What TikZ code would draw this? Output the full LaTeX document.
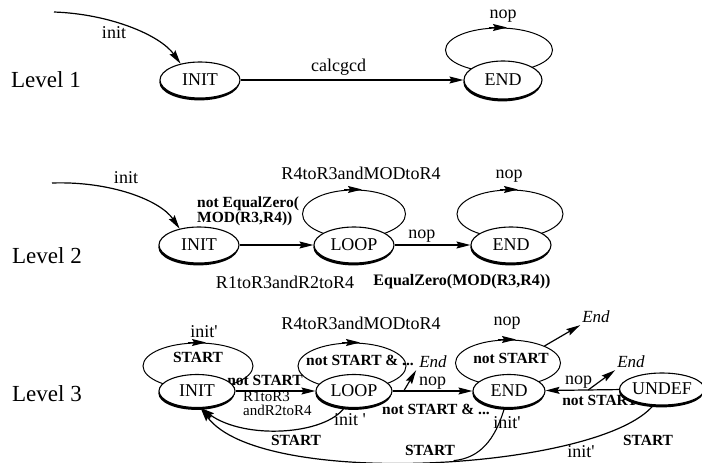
\documentclass[tikz,border=0pt]{standalone}
\usepackage{fontspec}
\setmainfont{Liberation Serif}
\usetikzlibrary{shapes.geometric,arrows.meta,shadows}
\newcommand\setfs[2]{\fontsize{#1}{#2}\selectfont}
\newcommand\pr{\textquotesingle}

\begin{document}
\begin{tikzpicture}[x=1pt,y=-1pt,
  state/.style={ellipse,draw,line width=1.1pt,fill=white,inner sep=0pt,
    minimum width=80pt,minimum height=36pt,font=\setfs{18}{20},
    drop shadow={shadow xshift=-0.6pt,shadow yshift=-2.4pt,opacity=1,fill=black}},
  loopring/.style={ellipse,draw,line width=1pt,inner sep=0pt},
  lvl/.style={font=\setfs{23}{25},inner sep=0pt},
  lbl/.style={font=\setfs{18}{20},inner sep=1pt},
  blbl/.style={font=\bfseries\setfs{15.5}{15},inner sep=1pt,align=left},
  slbl/.style={font=\setfs{15}{14},inner sep=1pt,align=left},
  endlbl/.style={font=\itshape\setfs{17}{18},inner sep=1pt},
  arr/.style={line width=1.2pt,-{Stealth[length=14pt,width=7pt,inset=2pt]}},
  plain/.style={line width=1.1pt},
]
\useasboundingbox (0,0) rectangle (702,463);

% ---------------- Level 1 ----------------
\node[lvl] (lv1) at (46,80) {Level 1};
\node[loopring,minimum width=107pt,minimum height=44pt] (end1loop) at (499,50) {};
\node[state] (init1) at (200,80) {INIT};
\node[state,minimum width=78pt,minimum height=38pt] (end1) at (503,80) {END};
\coordinate (src1) at (54,12);
\draw[arr] (src1) .. controls (110,14) and (160,35) .. (init1.140);
\node[lbl] (init1lbl) at (114,33) {init};
\draw[arr] (init1) -- node[lbl,pos=0.44,above=3pt] (calclbl) {calcgcd} (end1);
\draw[arr] ([xshift=-10pt]end1loop.north) -- ([xshift=8pt]end1loop.north);
\node[lbl] (nop1) at (503,16) {nop};

% ---------------- Level 2 ----------------
\node[lvl] (lv2) at (47,256) {Level 2};
\node[loopring,minimum width=103pt,minimum height=48pt] (loop2loop) at (354,214) {};
\node[loopring,minimum width=106pt,minimum height=48pt] (end2loop) at (510,214) {};
\node[state] (init2) at (199,245) {INIT};
\node[state] (loop2) at (354,245) {LOOP};
\node[state] (end2) at (511,245) {END};
\coordinate (src2) at (52,183);
\draw[arr] (src2) .. controls (110,181) and (160,200) .. (init2.140);
\node[lbl] (init2lbl) at (126,178) {init};
\draw[arr] (init2) -- (loop2);
\draw[arr] (loop2) -- node[lbl,pos=0.36,anchor=base,yshift=7pt] (nop2a) {nop} (end2);
\draw[arr] ([xshift=-10pt]loop2loop.north) -- ([xshift=8pt]loop2loop.north);
\draw[arr] ([xshift=-10pt]end2loop.north) -- ([xshift=8pt]end2loop.north);
\node[lbl] (r4lbl2) at (361,173) {R4toR3andMODtoR4};
\node[lbl] (nop2b) at (509,176) {nop};
\node[blbl,anchor=west] (nez) at (196,211) {not EqualZero(\\MOD(R3,R4))};
\node[lbl] (r1lbl2) at (285,282) {R1toR3andR2toR4};
\node[blbl,font=\bfseries\setfs{16}{16}] (ez) at (462,282) {EqualZero(MOD(R3,R4))};

% ---------------- Level 3 ----------------
\node[lvl] (lv3) at (47,394) {Level 3};
\node[loopring,minimum width=110pt,minimum height=46pt] (startloop) at (198,366) {};
\node[loopring,minimum width=108pt,minimum height=46pt] (loop3loop) at (352,366) {};
\node[loopring,minimum width=105pt,minimum height=46pt] (end3loop) at (508,363) {};
% labels partly hidden behind the state borders
\node[blbl] (ns1) at (265,380) {not START};
\node[blbl] (ns4) at (600,400) {not START};
\node[state,minimum width=76pt,minimum height=33pt] (init3) at (197,391) {INIT};
\node[state,minimum width=76pt,minimum height=33pt] (loop3) at (354,391) {LOOP};
\node[state,minimum width=72pt,minimum height=33pt] (end3) at (509,391) {END};
\node[state,minimum width=76pt,minimum height=32pt] (undef3) at (662,389) {UNDEF};

% self-loops
\draw[arr] ([xshift=-10pt]startloop.north) -- ([xshift=8pt]startloop.north);
\draw[arr] ([xshift=-10pt]loop3loop.north) -- ([xshift=8pt]loop3loop.north);
\draw[arr] ([xshift=-10pt]end3loop.north) -- ([xshift=8pt]end3loop.north);
\node[lbl] (initp1) at (204,332) {init\pr};
\node[blbl] (startin) at (198,357) {START};
\node[lbl] (r4lbl3) at (361,323) {R4toR3andMODtoR4};
\node[blbl,anchor=west] (nsand) at (305,360) {not START \& ...};
\node[lbl] (nop3b) at (507,323) {nop};
\node[blbl] (ns3) at (511,358) {not START};

% forward transitions
\draw[arr] (init3) -- (loop3);
\node[slbl,anchor=north west] (r1lbl3) at (242,390) {R1toR3\\andR2toR4};
\draw[arr] (loop3) -- coordinate[pos=0.14] (l3e)
  node[lbl,pos=0.5,anchor=base,yshift=6pt] (nop3a) {nop} (end3);
\node[blbl] (nsand2) at (436,409) {not START \& ...};
\draw[arr] (undef3) -- coordinate[pos=0.42] (ue)
  node[lbl,pos=0.55,anchor=base,yshift=6pt] (nop3c) {nop} (end3);

% exits to End
\node[endlbl] (enda) at (433,362) {End};
\node[endlbl] (endb) at (596,317) {End};
\node[endlbl] (endc) at (631,362) {End};
\draw[arr] (l3e) -- ([xshift=-2pt,yshift=-1pt]enda.south west);
\draw[arr] (end3loop.25) -- ([xshift=-1pt,yshift=-1pt]endb.south west);
\draw[arr] (ue) -- ([xshift=-1pt,yshift=-1pt]endc.south west);

% returns to INIT
\draw[arr] (loop3.-120) .. controls (325,435) and (245,440) .. (init3.-78);
\draw[arr] (undef3.-118) .. controls (600,470) and (262,490) .. (init3.-78)
  coordinate[pos=0.46] (mergeB);
\draw[plain] (end3.-105) .. controls (495,440) and (480,458) .. (mergeB);
\node[lbl] (initp2) at (350,420) {init \pr};
\node[blbl] (st1) at (296,440) {START};
\node[blbl] (st2) at (430,450) {START};
\node[lbl] (initp3) at (507,423) {init\pr};
\node[lbl] (initp4) at (581,452) {init\pr};
\node[blbl] (st3) at (648,440) {START};
\end{tikzpicture}
\end{document}
